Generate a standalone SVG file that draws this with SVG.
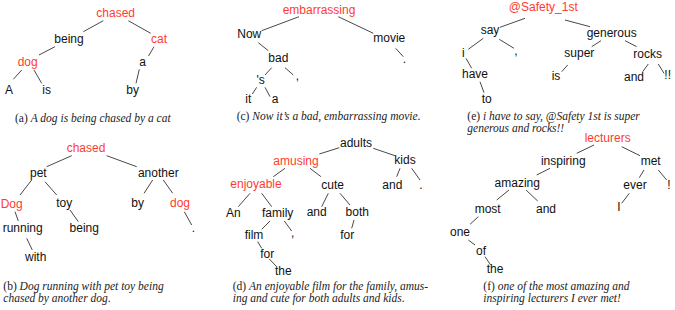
<svg xmlns="http://www.w3.org/2000/svg" width="675" height="310" viewBox="0 0 675 310">
<style>
text{font-family:"Liberation Sans",Arial,sans-serif;font-size:12px;fill:#111;text-anchor:middle}
.r{fill:#ff3b30}
.cap{font-family:"Liberation Serif","Times New Roman",serif;font-size:11.5px;fill:#222;text-anchor:start}
.cap tspan.i{font-style:italic}
#connectors line{stroke:#333;stroke-width:0.9}
</style>
<rect width="675" height="310" fill="#fff"/>
<g id="connectors">
<!-- a -->
<line x1="103.3" y1="20.7" x2="83.3" y2="31.7"/>
<line x1="128.3" y1="20.7" x2="150.7" y2="33.3"/>
<line x1="55" y1="46.7" x2="39" y2="55"/>
<line x1="154" y1="46.7" x2="148.5" y2="56"/>
<line x1="21.7" y1="70" x2="13.3" y2="79.3"/>
<line x1="34" y1="70" x2="41.7" y2="83.3"/>
<line x1="139.3" y1="69.3" x2="136" y2="83.3"/>
<!-- c -->
<line x1="299" y1="16.7" x2="261.7" y2="30.7"/>
<line x1="338.3" y1="16.7" x2="373.3" y2="33.3"/>
<line x1="258.3" y1="42.7" x2="268.3" y2="50.7"/>
<line x1="271.7" y1="67.7" x2="265" y2="75"/>
<line x1="285" y1="67.7" x2="293.3" y2="75"/>
<line x1="256.7" y1="87.3" x2="252.3" y2="94"/>
<line x1="265" y1="87.3" x2="270" y2="96.7"/>
<line x1="395.7" y1="48.3" x2="403.3" y2="56.7"/>
<!-- e -->
<line x1="525" y1="18.3" x2="500" y2="27.3"/>
<line x1="565" y1="20" x2="590" y2="26.7"/>
<line x1="483.3" y1="38.3" x2="468.3" y2="49.3"/>
<line x1="499.3" y1="39.3" x2="514" y2="48.3"/>
<line x1="466" y1="58.3" x2="471.7" y2="68.3"/>
<line x1="480" y1="81.7" x2="484" y2="92.7"/>
<line x1="601" y1="40.7" x2="591.7" y2="46.7"/>
<line x1="625" y1="40.7" x2="636.7" y2="46.7"/>
<line x1="567.7" y1="65" x2="561.7" y2="71.7"/>
<line x1="648.3" y1="64" x2="642.7" y2="71.7"/>
<line x1="658.3" y1="64" x2="664" y2="73.3"/>
<!-- b -->
<line x1="71.7" y1="155.7" x2="46.7" y2="166.7"/>
<line x1="106.7" y1="155.7" x2="136.7" y2="166.7"/>
<line x1="31.7" y1="180" x2="20" y2="195"/>
<line x1="45" y1="181.7" x2="56.7" y2="195"/>
<line x1="152.7" y1="180" x2="144" y2="193.3"/>
<line x1="163.3" y1="180" x2="172.7" y2="193.3"/>
<line x1="15" y1="211.7" x2="18.3" y2="221"/>
<line x1="70" y1="210" x2="78.3" y2="221.7"/>
<line x1="184.3" y1="211.7" x2="191.7" y2="225"/>
<line x1="26.7" y1="238.3" x2="32.3" y2="250"/>
<!-- d -->
<line x1="339.3" y1="147.7" x2="319.3" y2="154"/>
<line x1="373.3" y1="148.3" x2="395" y2="155.7"/>
<line x1="285" y1="168.3" x2="273.3" y2="176.7"/>
<line x1="310" y1="168.3" x2="321" y2="176.7"/>
<line x1="400" y1="168.3" x2="396.7" y2="176.7"/>
<line x1="411.7" y1="168.3" x2="420" y2="180"/>
<line x1="250" y1="193.3" x2="238.3" y2="206.7"/>
<line x1="261.7" y1="193.3" x2="271.7" y2="206.7"/>
<line x1="328.3" y1="193.3" x2="321.7" y2="206.7"/>
<line x1="340" y1="193.3" x2="350" y2="205"/>
<line x1="270" y1="221" x2="261.7" y2="229.3"/>
<line x1="284.3" y1="221" x2="291.7" y2="231"/>
<line x1="354" y1="220" x2="351.7" y2="228.3"/>
<line x1="257.7" y1="241.7" x2="261.7" y2="248.3"/>
<line x1="269.3" y1="259" x2="276.7" y2="266.7"/>
<!-- f -->
<line x1="594" y1="145" x2="576.7" y2="153.3"/>
<line x1="621.7" y1="146.7" x2="640" y2="155.7"/>
<line x1="550" y1="168.3" x2="536.7" y2="175"/>
<line x1="509" y1="190" x2="496.7" y2="200"/>
<line x1="526" y1="190" x2="537.7" y2="201"/>
<line x1="644" y1="170" x2="639.3" y2="177.7"/>
<line x1="658.3" y1="170" x2="666.7" y2="180"/>
<line x1="629.3" y1="193.3" x2="621.7" y2="203.3"/>
<line x1="478.3" y1="216.7" x2="470" y2="224.3"/>
<line x1="468.3" y1="240" x2="475" y2="245"/>
<line x1="485" y1="256.7" x2="490.7" y2="265"/>
</g>
<!-- panel a -->
<g id="a_chased"><text class="r" x="115.7" y="17">chased</text></g>
<g id="a_being"><text x="69" y="43">being</text></g>
<g id="a_cat"><text class="r" x="159" y="43">cat</text></g>
<g id="a_dog"><text class="r" x="27.7" y="66">dog</text></g>
<g id="a_a"><text x="142.7" y="66">a</text></g>
<g id="a_A"><text x="9" y="94">A</text></g>
<g id="a_is"><text x="46.7" y="94">is</text></g>
<g id="a_by"><text x="132.7" y="94">by</text></g>
<!-- panel c -->
<g id="c_embarrassing"><text class="r" x="319" y="13.5">embarrassing</text></g>
<g id="c_Now"><text x="249.3" y="38.3">Now</text></g>
<g id="c_movie"><text x="389.3" y="41.7">movie</text></g>
<g id="c_bad"><text x="278.3" y="61.7">bad</text></g>
<g id="c_s"><text x="260.7" y="84">'s</text></g>
<g id="c_comma"><text x="297.3" y="80">,</text></g>
<g id="c_it"><text x="248.3" y="102.5">it</text></g>
<g id="c_a"><text x="275" y="102.8">a</text></g>
<g id="c_period"><text x="404.3" y="63">.</text></g>
<!-- panel e -->
<g id="e_safety"><text class="r" x="543.3" y="11">@Safety_1st</text></g>
<g id="e_say"><text x="490" y="34">say</text></g>
<g id="e_generous"><text x="611.7" y="36.7">generous</text></g>
<g id="e_i"><text x="463.3" y="56.7">i</text></g>
<g id="e_comma"><text x="516" y="55">,</text></g>
<g id="e_super"><text x="579.3" y="57.3">super</text></g>
<g id="e_rocks"><text x="647.7" y="58.3">rocks</text></g>
<g id="e_have"><text x="475" y="77.7">have</text></g>
<g id="e_is"><text x="556" y="80">is</text></g>
<g id="e_and"><text x="634" y="80.7">and</text></g>
<g id="e_excl"><text x="667.7" y="79.3">!!</text></g>
<g id="e_to"><text x="486.7" y="103.3">to</text></g>
<!-- panel b -->
<g id="b_chased"><text class="r" x="86" y="151.7">chased</text></g>
<g id="b_pet"><text x="38.3" y="176.7">pet</text></g>
<g id="b_another"><text x="158.3" y="176.7">another</text></g>
<g id="b_Dog"><text class="r" x="11.7" y="207.7">Dog</text></g>
<g id="b_toy"><text x="64.3" y="206.7">toy</text></g>
<g id="b_by"><text x="137.7" y="206.7">by</text></g>
<g id="b_dog"><text class="r" x="180" y="206.7">dog</text></g>
<g id="b_running"><text x="22.7" y="232.3">running</text></g>
<g id="b_being"><text x="84.3" y="232.3">being</text></g>
<g id="b_period"><text x="193.3" y="232.3">.</text></g>
<g id="b_with"><text x="35.7" y="261">with</text></g>
<!-- panel d -->
<g id="d_adults"><text x="356" y="146.7">adults</text></g>
<g id="d_amusing"><text class="r" x="296" y="164.7">amusing</text></g>
<g id="d_kids"><text x="405" y="164.3">kids</text></g>
<g id="d_enjoyable"><text class="r" x="256" y="188.3">enjoyable</text></g>
<g id="d_cute"><text x="332.7" y="189.3">cute</text></g>
<g id="d_and1"><text x="392.3" y="189.3">and</text></g>
<g id="d_period"><text x="421" y="189">.</text></g>
<g id="d_An"><text x="233.3" y="217">An</text></g>
<g id="d_family"><text x="277.7" y="216.7">family</text></g>
<g id="d_and2"><text x="316.7" y="216">and</text></g>
<g id="d_both"><text x="357.3" y="216">both</text></g>
<g id="d_film"><text x="254" y="239.3">film</text></g>
<g id="d_comma"><text x="292.7" y="237">,</text></g>
<g id="d_for1"><text x="347.3" y="239.3">for</text></g>
<g id="d_for2"><text x="267.3" y="257.7">for</text></g>
<g id="d_the"><text x="283.3" y="275">the</text></g>
<!-- panel f -->
<g id="f_lecturers"><text class="r" x="607.7" y="142">lecturers</text></g>
<g id="f_inspiring"><text x="563.3" y="165">inspiring</text></g>
<g id="f_met"><text x="650.7" y="165">met</text></g>
<g id="f_amazing"><text x="517.3" y="187.3">amazing</text></g>
<g id="f_ever"><text x="635" y="189">ever</text></g>
<g id="f_excl"><text x="669" y="189">!</text></g>
<g id="f_most"><text x="487.7" y="212.7">most</text></g>
<g id="f_and"><text x="546" y="212.7">and</text></g>
<g id="f_I"><text x="619" y="211">I</text></g>
<g id="f_one"><text x="460" y="236">one</text></g>
<g id="f_of"><text x="481" y="255">of</text></g>
<g id="f_the"><text x="495" y="273.3">the</text></g>
<!-- captions -->
<g id="captions">
<text class="cap" x="15" y="121.5">(a) <tspan class="i">A dog is being chased by a cat</tspan></text>
<text class="cap" x="236.7" y="119.5">(c) <tspan class="i">Now it’s a bad, embarrassing movie</tspan>.</text>
<text class="cap" x="467.3" y="120">(e) <tspan class="i">i have to say, @Safety 1st is super</tspan></text>
<text class="cap" x="467.3" y="131.7"><tspan class="i">generous and rocks!!</tspan></text>
<text class="cap" x="3.3" y="290">(b) <tspan class="i">Dog running with pet toy being</tspan></text>
<text class="cap" x="3.3" y="301.7"><tspan class="i">chased by another dog</tspan>.</text>
<text class="cap" x="232.7" y="290">(d) <tspan class="i">An enjoyable film for the family, amus-</tspan></text>
<text class="cap" x="232.7" y="301.7"><tspan class="i">ing and cute for both adults and kids</tspan>.</text>
<text class="cap" x="483.3" y="290">(f) <tspan class="i">one of the most amazing and</tspan></text>
<text class="cap" x="483.3" y="301.7"><tspan class="i">inspiring lecturers I ever met!</tspan></text>
</g>
</svg>
